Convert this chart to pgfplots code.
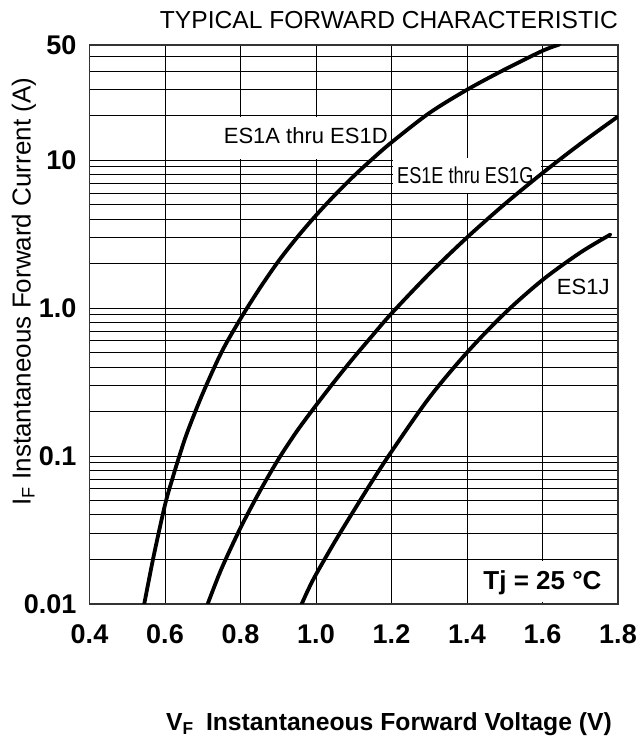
\documentclass[border=0pt]{standalone}
\usepackage{fontspec}
\setmainfont{Liberation Sans}
\usepackage{graphicx}
\usepackage{pgfplots}
\pgfplotsset{compat=1.18}
\begin{document}
\begin{tikzpicture}
\path (0pt,0pt) rectangle (634pt,742pt);
\begin{axis}[
  at={(89.5pt,138pt)}, anchor=south west,
  scale only axis, width=528.5pt, height=559pt,
  ymode=log, xmin=0.4, xmax=1.8, ymin=0.01, ymax=60,
  xtick={0.4,0.6,0.8,1.0,1.2,1.4,1.6,1.8},
  xticklabels={0.4,0.6,0.8,1.0,1.2,1.4,1.6,1.8},
  ytick={0.01,0.1,1,10,60},
  yticklabels={0.01,0.1,1.0,10,50},
  minor ytick={0.02,0.03,0.04,0.05,0.06,0.07,0.08,0.09,0.2,0.3,0.4,0.5,0.6,0.7,0.8,0.9,2,3,4,5,6,7,8,9,20,30,40,50},
  grid=both,
  major grid style={black, line width=0.9pt},
  minor grid style={black, line width=0.9pt},
  major tick length=0pt, minor tick length=0pt,
  axis line style={black!80, line width=1.5pt},
  tick label style={font=\bfseries\fontsize{27}{27}\selectfont, inner sep=0pt},
  xticklabel style={anchor=base, yshift=-40pt},
  yticklabel style={anchor=east, xshift=-13pt},
  set layers,
]
\begin{pgfonlayer}{pre main}
\fill[white] (axis cs:0.742,10.25) rectangle (axis cs:1.195,19.5);
\fill[white] (axis cs:1.205,5.95) rectangle (axis cs:1.595,10.3);
\fill[white] (axis cs:1.405,0.0103) rectangle (axis cs:1.796,0.0196);
\node[font=\fontsize{22}{22}\selectfont] at (axis cs:0.973,14.7) {ES1A thru ES1D};
\node[font=\fontsize{23}{23}\selectfont] at (axis cs:1.3955,7.92) {\scalebox{0.79}[1]{ES1E thru ES1G}};
\node[font=\fontsize{22}{22}\selectfont] at (axis cs:1.708,1.393) {ES1J};
\node[font=\bfseries\fontsize{26}{26}\selectfont, anchor=base] at (axis cs:1.6,0.01245) {Tj = 25 °C};
\end{pgfonlayer}

% ES1A thru ES1D
\addplot[black, line width=3.8pt, smooth, line cap=round] coordinates {
(0.545,0.01) (0.57,0.0211) (0.6,0.0468) (0.62,0.0708) (0.638,0.1) (0.66,0.147)
(0.7,0.265) (0.75,0.505) (0.8,0.847) (0.85,1.349) (0.9,2.065) (0.95,3.006)
(1.0,4.236) (1.05,5.81) (1.1,7.80) (1.15,10.22) (1.2,13.18) (1.3,20.80)
(1.4,29.9) (1.5,41.0) (1.6,54.8) (1.645,60.5)
};
% ES1E thru ES1G
\addplot[black, line width=3.8pt, smooth, line cap=round] coordinates {
(0.713,0.01) (0.75,0.0174) (0.8,0.0327) (0.85,0.0571) (0.9,0.0948) (0.95,0.148)
(1.0,0.220) (1.05,0.322) (1.1,0.463) (1.15,0.655) (1.2,0.920) (1.3,1.706)
(1.4,3.0) (1.5,5.05) (1.6,8.18) (1.7,12.88) (1.8,19.72)
};
% ES1J
\addplot[black, line width=3.8pt, smooth, line cap=round] coordinates {
(0.962,0.01) (0.98,0.0126) (1.0,0.01585) (1.05,0.0264) (1.1,0.0427) (1.15,0.0684)
(1.2,0.1072) (1.3,0.248) (1.4,0.501) (1.5,0.923) (1.6,1.549) (1.7,2.371) (1.78,3.141)
};
\end{axis}
\node[anchor=base east, inner sep=0pt, font=\fontsize{24.6}{24.6}\selectfont] at (618pt,713.7pt) {TYPICAL FORWARD CHARACTERISTIC};
\node[anchor=base east, inner sep=0pt, font=\bfseries\fontsize{24.7}{24.7}\selectfont] at (612pt,11pt) {V\textsubscript{F}\hspace{0.5em}Instantaneous Forward Voltage (V)};
\node[rotate=90, inner sep=0pt, font=\fontsize{26}{26}\selectfont] at (24pt,450.3pt) {I\textsubscript{F} Instantaneous Forward Current (A)};
\end{tikzpicture}
\end{document}
